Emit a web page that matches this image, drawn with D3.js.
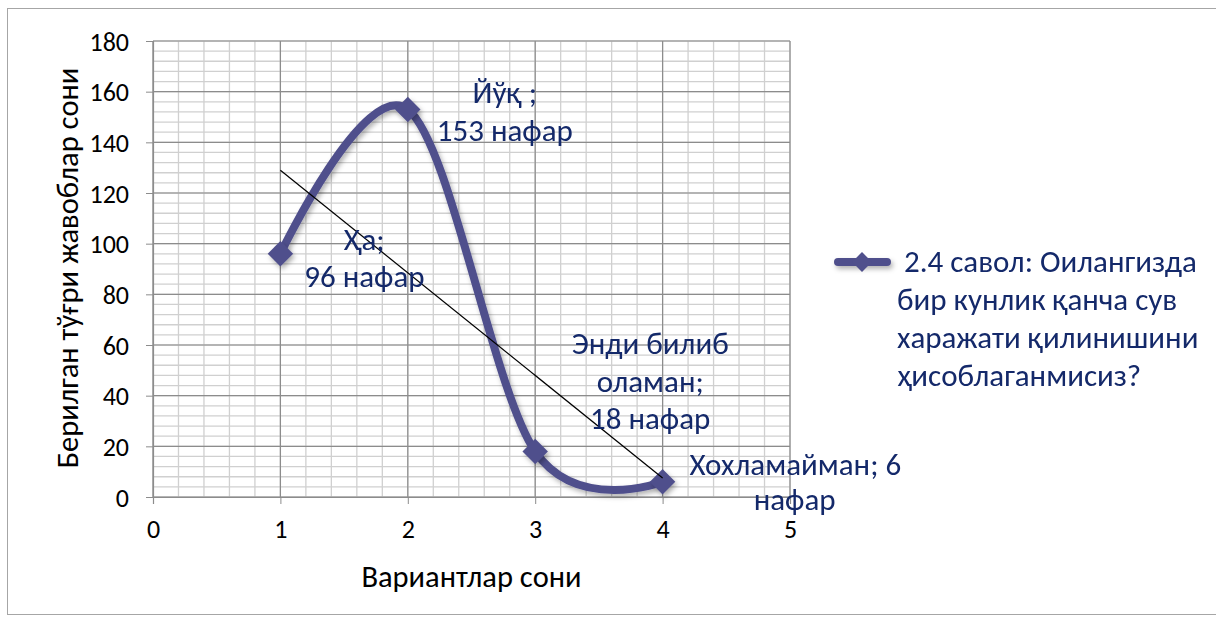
<!DOCTYPE html>
<html><head><meta charset="utf-8">
<script src="https://cdn.jsdelivr.net/npm/d3@7"></script>
<style>
body{margin:0;background:#fff;}
text{font-family:Carlito,"Noto Sans",sans-serif;}
</style></head>
<body><svg id="c" width="1216" height="619"></svg>
<script>
const categories = [1, 2, 3, 4];
const values = [96, 153, 18, 6];
const labelLines = [["Ҳа;", "96 нафар"], ["Йўқ ;", "153 нафар"], ["Энди билиб", "оламан;", "18 нафар"], ["Хохламайман; 6", "нафар"]];
const xTicks = [0, 1, 2, 3, 4, 5];
const yTicks = [0, 20, 40, 60, 80, 100, 120, 140, 160, 180];
const seriesName = ["2.4 савол: Оилангизда", "бир кунлик қанча сув", "харажати қилинишини", "ҳисоблаганмисиз?"];
const xTitle = "Вариантлар сони";
const yTitle = "Берилган тўғри жавоблар сони";

const svg = d3.select("#c");
const lineColor = "#50508c", labelColor = "#14296a";
const x = d3.scaleLinear().domain([0, 5]).range([153, 790]);
const y = d3.scaleLinear().domain([0, 180]).range([497, 41]);

const defs = svg.append("defs");
const f = defs.append("filter").attr("id","sh").attr("filterUnits","userSpaceOnUse").attr("x",0).attr("y",0).attr("width",1216).attr("height",619);
f.append("feDropShadow").attr("dx",2).attr("dy",3).attr("stdDeviation",2.5).attr("flood-color","#000").attr("flood-opacity",0.3);

svg.append("rect").attr("x",7.5).attr("y",8.5).attr("width",1220).attr("height",606).attr("fill","none").attr("stroke","#a6a6a6");

// grid
const minorX = d3.range(0, 5.0001, 0.2), minorY = d3.range(0, 180.001, 4);
const g = svg.append("g");
g.selectAll(".mx").data(minorX).join("line").attr("x1",d=>x(d)).attr("x2",d=>x(d)).attr("y1",y(180)).attr("y2",y(0)).attr("stroke","#d0d0d0").attr("stroke-width",1.3);
g.selectAll(".my").data(minorY).join("line").attr("x1",x(0)).attr("x2",x(5)).attr("y1",d=>y(d)).attr("y2",d=>y(d)).attr("stroke","#d0d0d0").attr("stroke-width",1.3);
g.selectAll(".Mx").data(xTicks).join("line").attr("x1",d=>x(d)).attr("x2",d=>x(d)).attr("y1",y(180)).attr("y2",y(0)).attr("stroke","#8c8c8c").attr("stroke-width",1.2);
g.selectAll(".My").data(yTicks).join("line").attr("x1",x(0)).attr("x2",x(5)).attr("y1",d=>y(d)).attr("y2",d=>y(d)).attr("stroke","#8c8c8c").attr("stroke-width",1.2);

// axes
const ya = svg.append("g").attr("transform",`translate(${x(0)},0)`).call(d3.axisLeft(y).tickValues(yTicks).tickFormat(d3.format("d")).tickSize(7).tickPadding(17));
const xa = svg.append("g").attr("transform",`translate(0,${y(0)})`).call(d3.axisBottom(x).tickValues(xTicks).tickFormat(d3.format("d")).tickSize(7).tickPadding(16));
[ya,xa].forEach(a=>{a.attr("font-size",null).attr("font-family",null);
  a.select(".domain").attr("stroke","#8c8c8c").attr("stroke-width",1.2);
  a.selectAll(".tick line").attr("stroke","#8c8c8c");
  a.selectAll(".tick text").attr("font-size",26).attr("fill","#000");});
ya.selectAll(".tick text").attr("dy","0.35em");

// titles
svg.append("text").attr("x",(x(0)+x(5))/2).attr("y",587).attr("text-anchor","middle").attr("font-size",30.5).text(xTitle);
svg.append("text").attr("transform","translate(78,268) rotate(-90)").attr("text-anchor","middle").attr("font-size",30.5).text(yTitle);

// series
const pts = categories.map((c,i)=>[x(c), y(values[i])]);
const line = d3.line().curve(d3.curveCardinal.tension(0));
svg.append("path").attr("d",line(pts)).attr("fill","none").attr("stroke",lineColor).attr("stroke-width",8).attr("stroke-linecap","round").attr("filter","url(#sh)");
svg.append("g").attr("filter","url(#sh)").selectAll("rect").data(pts).join("rect").attr("x",-9).attr("y",-9).attr("width",18).attr("height",18)
  .attr("transform",d=>`translate(${d[0]},${d[1]}) rotate(45)`).attr("fill",lineColor);

// trendline (linear least squares of the series)
const mx = d3.mean(categories), my = d3.mean(values);
const slope = d3.sum(categories,(c,i)=>(c-mx)*(values[i]-my))/d3.sum(categories,c=>(c-mx)**2);
const tl = c => my + slope*(c-mx);
const c0 = d3.min(categories), c1 = d3.max(categories);
svg.append("line").attr("x1",x(c0)).attr("y1",y(tl(c0))).attr("x2",x(c1)).attr("y2",y(tl(c1))).attr("stroke","#000").attr("stroke-width",1.2);

// data labels
const labelPos = [{dx:84,dy:-4,anchor:"middle"},{dx:97,dy:-6,anchor:"middle"},{dx:115,dy:-97,anchor:"middle"},{dx:27,dy:-7,anchor:"start"}];
const lh = 37.5;
labelLines.forEach((lines,i)=>{
  const p = pts[i], o = labelPos[i];
  const t = svg.append("text").attr("fill",labelColor).attr("font-size",31);
  lines.forEach((s,j)=>{
    const last = (i===3 && j===1);
    t.append("tspan").attr("x", last ? p[0]+132 : p[0]+o.dx).attr("y",p[1]+o.dy+j*lh - (last?2:0))
      .attr("text-anchor", last ? "middle" : o.anchor).text(s);
  });
});

// legend
const ly = 262;
svg.append("path").attr("d",`M838,${ly}H887`).attr("stroke",lineColor).attr("stroke-width",8).attr("stroke-linecap","round").attr("filter","url(#sh)");
svg.append("rect").attr("x",-7).attr("y",-7).attr("width",14).attr("height",14).attr("transform",`translate(862,${ly}) rotate(45)`).attr("fill",lineColor);
const lt = svg.append("text").attr("fill",labelColor).attr("font-size",31);
seriesName.forEach((s,j)=>lt.append("tspan").attr("x", j===0?904:897).attr("y",ly+10+j*38).text(s));
</script></body></html>
